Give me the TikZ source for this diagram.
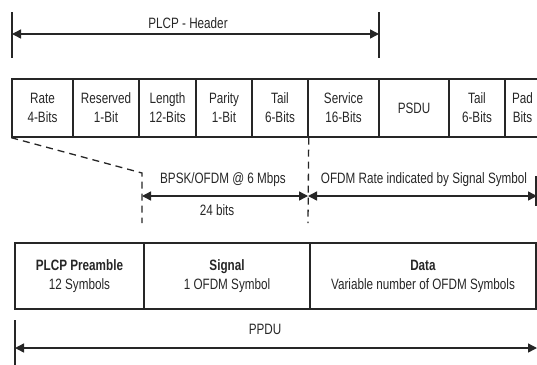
\documentclass[tikz,border=0pt]{standalone}
\usepackage{fontspec}
\setmainfont{Liberation Sans}[FakeStretch=0.78]
\usetikzlibrary{arrows.meta}
\definecolor{ink}{HTML}{262626}
\begin{document}
\begin{tikzpicture}[x=1pt,y=-1pt,
  every node/.style={text=ink, font=\fontsize{15}{19}\selectfont},
  fld/.style={draw=ink, line width=1.4pt, minimum height=58pt, inner sep=0pt, align=center},
  bfld/.style={draw=ink, line width=1.4pt, minimum height=66pt, inner sep=0pt, align=center},
  lbl/.style={inner sep=0pt},
  tick/.style={draw=ink, line width=1.4pt},
  dim/.style={draw=ink, line width=1.4pt, {Triangle[length=9pt,width=9pt]}-{Triangle[length=9pt,width=9pt]}},
  dsh/.style={draw=ink, line width=1.3pt, dash pattern=on 7pt off 5pt}]
\useasboundingbox (0,0) rectangle (537,364);
\clip (0,0) rectangle (537,364);
% PLCP header dimension
\coordinate (h1t) at (12,12); \coordinate (h1b) at (12,58);
\coordinate (h2t) at (379,12); \coordinate (h2b) at (379,58);
\coordinate (h1) at (12,34); \coordinate (h2) at (379,34);
\draw[tick] (h1t) -- (h1b);
\draw[tick] (h2t) -- (h2b);
\draw[dim] (h1) -- (h2);
\node[lbl] (hlab) at (188,23) {PLCP - Header};
% field row
\node[fld, minimum width=61pt] (rate) at (42.5,108) {Rate\\4-Bits};
\node[fld, minimum width=66pt] (res) at (106,108) {Reserved\\1-Bit};
\node[fld, minimum width=57pt] (len) at (167.5,108) {Length\\12-Bits};
\node[fld, minimum width=56pt] (par) at (224,108) {Parity\\1-Bit};
\node[fld, minimum width=56pt] (tailA) at (280,108) {Tail\\6-Bits};
\node[fld, minimum width=71pt] (serv) at (343.5,108) {Service\\16-Bits};
\node[fld, minimum width=70pt] (psdu) at (414,108) {PSDU};
\node[fld, minimum width=56pt] (tailB) at (477,108) {Tail\\6-Bits};
\node[fld, minimum width=35pt] (pad) at (522.5,108) {Pad\\Bits};
% dashed guides
\coordinate (c1) at (142,173);
\coordinate (c2) at (142,223);
\coordinate (c3) at (308,223);
\draw[dsh] (rate.south west) -- (c1) -- (c2);
\draw[dsh] (tailA.south east) -- (c3);
% signal / data dimensions
\coordinate (a1) at (142,196);
\coordinate (a2) at (308,196);
\coordinate (a3) at (537,196);
\coordinate (e1) at (536,176);
\coordinate (e2) at (536,206);
\draw[dim] (a1) -- (a2);
\draw[dim] (a2) -- (a3);
\draw[tick] (e1) -- (e2);
\node[lbl] (bpsk) at (223,180) {BPSK/OFDM @ 6 Mbps};
\node[lbl] (bits) at (217,210) {24 bits};
\node[lbl] (ofdm) at (424,180) {OFDM Rate indicated by Signal Symbol};
% PPDU boxes
\node[bfld, minimum width=129pt] (pre) at (79.5,276) {\textbf{PLCP Preamble}\\12 Symbols};
\node[bfld, minimum width=166pt] (sig) at (227,276) {\textbf{Signal}\\1 OFDM Symbol};
\node[bfld, minimum width=226pt] (data) at (423,276) {\textbf{Data}\\Variable number of OFDM Symbols};
% PPDU dimension
\coordinate (p0t) at (15,320); \coordinate (p0b) at (15,370);
\coordinate (p1) at (15,348); \coordinate (p2) at (537,348);
\draw[tick] (p0t) -- (p0b);
\draw[dim] (p1) -- (p2);
\node[lbl] (ppdu) at (265,329) {PPDU};
\end{tikzpicture}
\end{document}
